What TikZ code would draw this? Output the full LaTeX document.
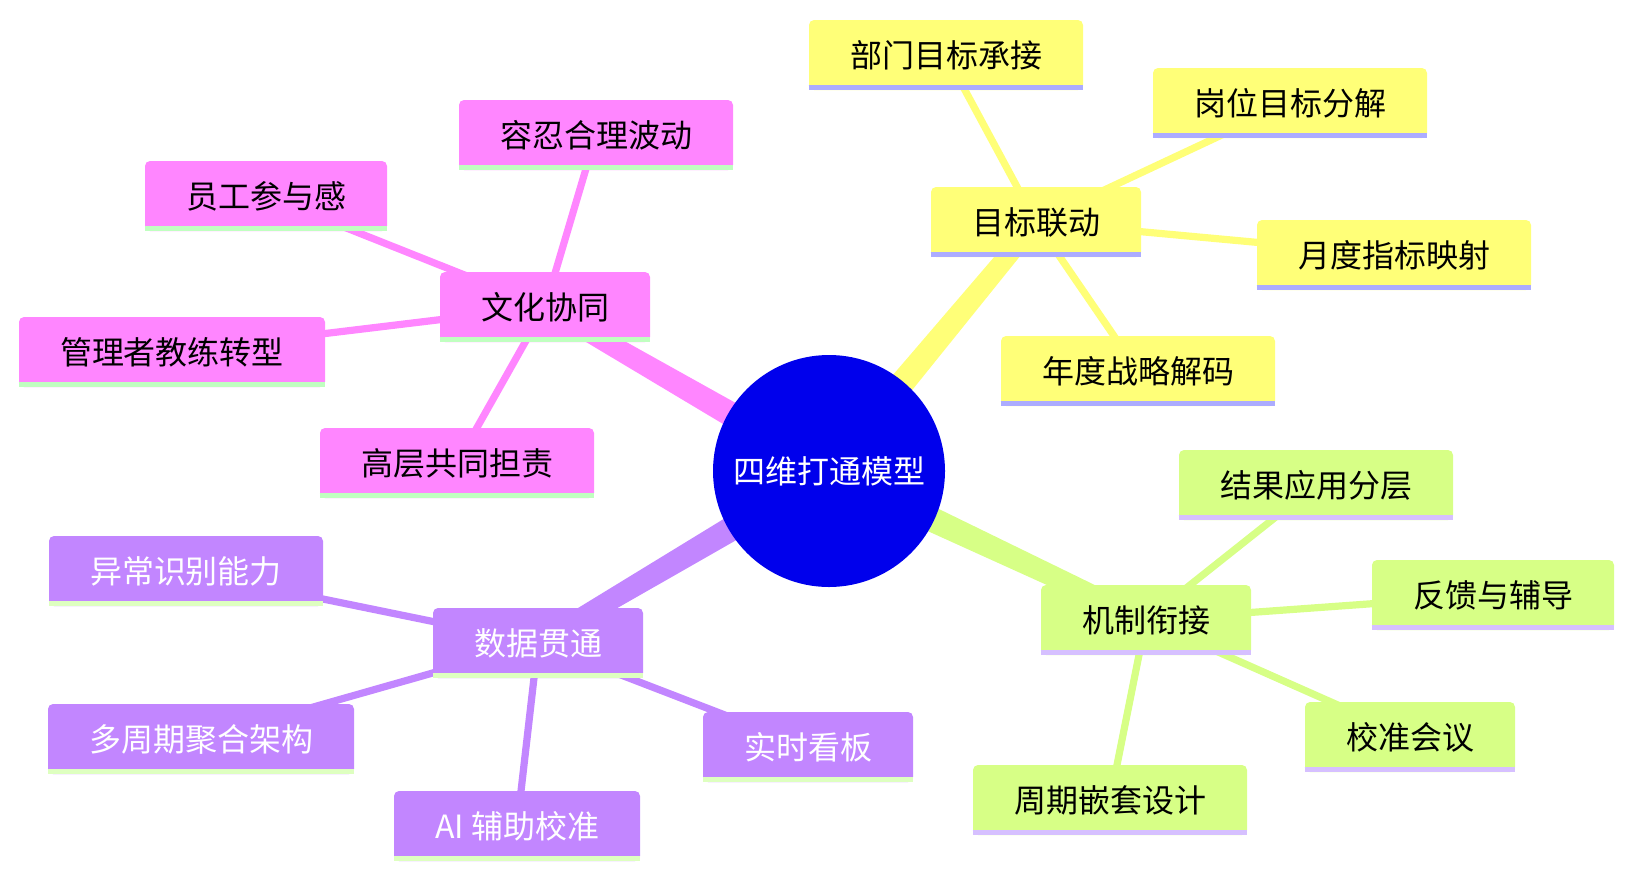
\documentclass[tikz,border=0pt]{standalone}
\usepackage{fontspec}
\setmainfont{Noto Sans CJK SC}
\usepackage{tikz}
\usetikzlibrary{calc,backgrounds}
\definecolor{rootblue}{RGB}{0,0,236}
\definecolor{secyellow}{RGB}{255,255,120}
\definecolor{secgreen}{RGB}{215,255,134}
\definecolor{secpurple}{RGB}{194,134,255}
\definecolor{secpink}{RGB}{255,134,255}
\definecolor{lineyellow}{RGB}{172,172,255}
\definecolor{linegreen}{RGB}{214,192,255}
\definecolor{linepurple}{RGB}{222,255,192}
\definecolor{linepink}{RGB}{192,255,192}

% tapered branch from the centre circle
\newcommand{\trunk}[3]{%
  \fill[#3] ($(#1)!7pt!90:(#2)$) -- ($(#2)!4.5pt!-90:(#1)$)
    -- ($(#2)!4.5pt!90:(#1)$) -- ($(#1)!7pt!-90:(#2)$) -- cycle;}

\tikzset{
  topic/.style={rounded corners=2.5pt, minimum height=35pt, inner xsep=20.5pt,
    inner ysep=0pt, font=\fontsize{16}{19}\selectfont},
  yel/.style={topic, fill=secyellow},
  grn/.style={topic, fill=secgreen},
  pur/.style={topic, fill=secpurple, text=white},
  pnk/.style={topic, fill=secpink},
  twig/.style={line width=3.6pt},
}

\begin{document}
\begin{tikzpicture}[x=0.5pt, y=-0.5pt]
    \useasboundingbox (0,0) rectangle (1633,878);

    % centre
    \node[circle, fill=rootblue, text=white, minimum size=116pt, inner sep=0pt,
      font=\fontsize{16}{19}\selectfont] (root) at (829,471) {四维打通模型};

    % 目标联动
    \node[yel] (goal) at (1036,222) {目标联动};
    \node[yel] (goal1) at (946,55) {部门目标承接};
    \node[yel] (goal2) at (1290,103) {岗位目标分解};
    \node[yel] (goal3) at (1394,255) {月度指标映射};
    \node[yel] (goal4) at (1138,371) {年度战略解码};

    % 机制衔接
    \node[grn] (mech) at (1146,620) {机制衔接};
    \node[grn] (mech1) at (1316,485) {结果应用分层};
    \node[grn] (mech2) at (1493,595) {反馈与辅导};
    \node[grn] (mech3) at (1410,737) {校准会议};
    \node[grn] (mech4) at (1110,800) {周期嵌套设计};

    % 数据贯通
    \node[pur] (data) at (538,643) {数据贯通};
    \node[pur] (data1) at (186,571) {异常识别能力};
    \node[pur] (data2) at (201,739) {多周期聚合架构};
    \node[pur] (data3) at (517,826) {AI 辅助校准};
    \node[pur] (data4) at (808,747) {实时看板};

    % 文化协同
    \node[pnk] (cult) at (545,307) {文化协同};
    \node[pnk] (cult1) at (596,135) {容忍合理波动};
    \node[pnk] (cult2) at (266,196) {员工参与感};
    \node[pnk] (cult3) at (172,352) {管理者教练转型};
    \node[pnk] (cult4) at (457,463) {高层共同担责};

    % underlines
    \foreach \n/\c in {goal/lineyellow, goal1/lineyellow, goal2/lineyellow, goal3/lineyellow, goal4/lineyellow,
                       mech/linegreen, mech1/linegreen, mech2/linegreen, mech3/linegreen, mech4/linegreen,
                       data/linepurple, data1/linepurple, data2/linepurple, data3/linepurple, data4/linepurple,
                       cult/linepink, cult1/linepink, cult2/linepink, cult3/linepink, cult4/linepink}
      \draw[\c, line width=2.5pt] ($(\n.south west)+(0,1.25pt)$) -- ($(\n.south east)+(0,1.25pt)$);

    \begin{pgfonlayer}{background}
      \trunk{root}{goal}{secyellow}
      \trunk{root}{mech}{secgreen}
      \trunk{root}{data}{secpurple}
      \trunk{root}{cult}{secpink}
      \foreach \i in {1,...,4} {
        \draw[twig, secyellow] (goal.center) -- (goal\i.center);
        \draw[twig, secgreen] (mech.center) -- (mech\i.center);
        \draw[twig, secpurple] (data.center) -- (data\i.center);
        \draw[twig, secpink] (cult.center) -- (cult\i.center);
      }
    \end{pgfonlayer}
\end{tikzpicture}
\end{document}
